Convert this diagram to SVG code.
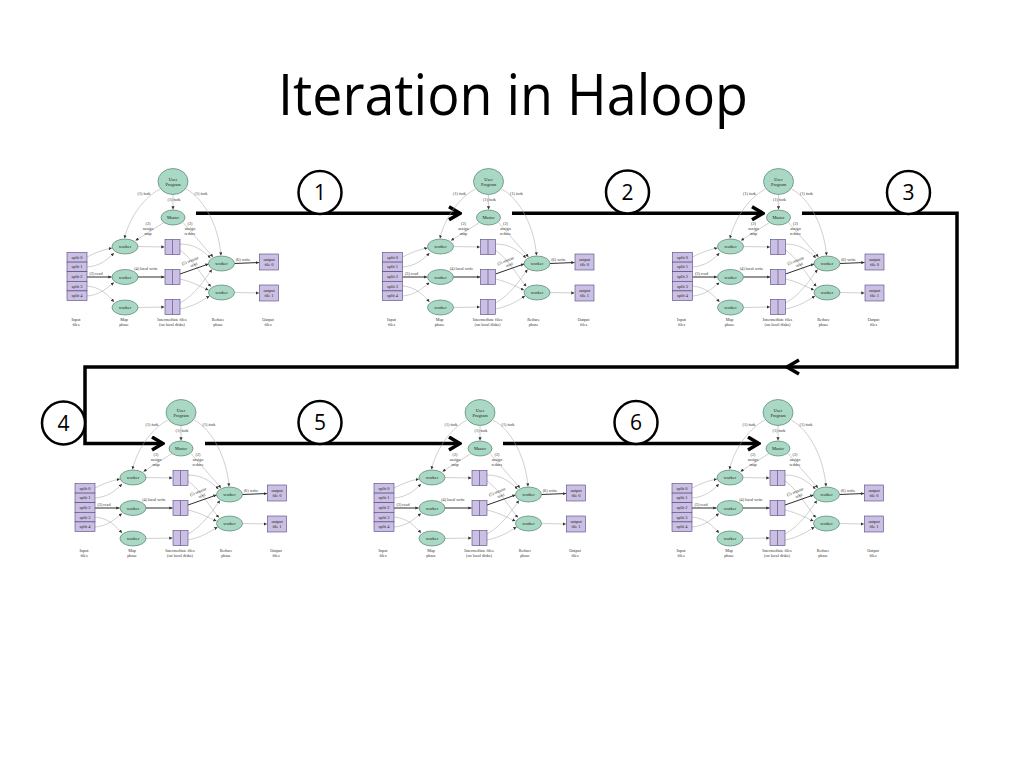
<svg xmlns="http://www.w3.org/2000/svg" width="1024" height="768" viewBox="0 0 1024 768">
<defs>
<style>
.up,.wk{fill:#a9d8c4;stroke:#3f6e5e;stroke-width:0.6}
.bx{fill:#cbc0e3;stroke:#4e4380;stroke-width:0.6}
.dv{stroke:#4e4380;stroke-width:0.6}
.t{font-family:"Liberation Serif",serif;font-size:4.2px;fill:#333;text-anchor:middle}
.n{font-family:"Liberation Serif",serif;font-size:4.4px;fill:#222;text-anchor:middle}
.c{fill:none;stroke:#a8a8a8;stroke-width:0.55;marker-end:url(#ah)}
.b{fill:none;stroke:#222;stroke-width:0.95;marker-end:url(#ah)}
.big{fill:none;stroke:#000;stroke-width:3.5}
.bigA{fill:none;stroke:#000;stroke-width:3.5;marker-end:url(#chev)}
.step{fill:#fff;stroke:#000;stroke-width:2.5}
.num{font-family:"Open Sans","Liberation Sans",sans-serif;font-size:21px;fill:#000;text-anchor:middle}
</style>
<marker id="ah" viewBox="0 0 4 4" refX="4" refY="2" markerWidth="3.2" markerHeight="3.2" markerUnits="userSpaceOnUse" orient="auto"><path d="M0,0 L4,2 L0,4 z" fill="#333"/></marker>
<marker id="chev" viewBox="0 0 14 16" refX="12.5" refY="8" markerWidth="14" markerHeight="16" markerUnits="userSpaceOnUse" orient="auto"><path d="M1.5,1.5 L12.5,8 L1.5,14.5" fill="none" stroke="#000" stroke-width="3.5"/></marker>
</defs>
<rect width="1024" height="768" fill="#fff"/>
<text x="278" y="115" font-family="'Open Sans','Liberation Sans',sans-serif" font-size="56" textLength="470" lengthAdjust="spacingAndGlyphs" fill="#000">Iteration in Haloop</text>

<g id="flow">
<path class="bigA" d="M196,213.3 H460"/>
<path class="bigA" d="M512,213.3 H763"/>
<path class="bigA" d="M802,213.3 H957 V367 H85 V443.5 H163"/>
<polyline class="big" points="799,360 787,367 799,374"/>
<path class="bigA" d="M205,443.5 H460"/>
<path class="bigA" d="M503,443.5 H759"/>
</g>
<g id="step1"><circle class="step" cx="320" cy="192.5" r="21.5"/><text class="num" x="320" y="200">1</text></g>
<g id="step2"><circle class="step" cx="627.5" cy="192" r="21.5"/><text class="num" x="627.5" y="199.5">2</text></g>
<g id="step3"><circle class="step" cx="908.5" cy="192.5" r="21.5"/><text class="num" x="908.5" y="200">3</text></g>
<g id="step4"><circle class="step" cx="63.5" cy="423" r="21.5"/><text class="num" x="63.5" y="430.5">4</text></g>
<g id="step5"><circle class="step" cx="320" cy="422.5" r="21.5"/><text class="num" x="320" y="430">5</text></g>
<g id="step6"><circle class="step" cx="636" cy="422.5" r="21.5"/><text class="num" x="636" y="430">6</text></g>

<g id="d1" transform="translate(0,0)">
<g id="d1-edges">
<path class="c" d="M160,189 C141,199 128,222 124.5,238.5"/>
<path class="c" d="M173,194.5 L173,209.5"/>
<path class="c" d="M186,189 C205,199 219,228 221,255.5"/>
<path class="c" d="M164,222.5 L135.5,240.5"/>
<path class="c" d="M183,222.5 L213,257"/>
<path class="c" d="M87,257 C97,252 104,249.5 112,248"/>
<path class="c" d="M87,267 C100,266 107,260 114,253"/>
<path class="b" d="M87,277 L111.5,277"/>
<path class="c" d="M87,286 C100,287 108,295 114,302"/>
<path class="c" d="M87,296 C100,295 107,288 114,282.5"/>
<path class="c" d="M138,246.5 L164.5,247"/>
<path class="b" d="M138,277 L164.5,277"/>
<path class="c" d="M138,307.5 L164.5,307"/>
<path class="c" d="M180,244 C195,244 203,251 210.5,258"/>
<path class="c" d="M180,250 C194,260 203,278 211,286.5"/>
<path class="b" d="M180,274 L208.5,264"/>
<path class="c" d="M180,279 C193,282 201,287 208.5,290"/>
<path class="c" d="M180,303 C195,295 205,279 212,269.5"/>
<path class="c" d="M180,309 C195,306 203,300 209.5,296"/>
<path class="b" d="M234.5,263.5 L259,262.5"/>
<path class="c" d="M234.5,292.5 L259,293"/>
<text class="t" x="144" y="194.5">(1) fork</text>
<text class="t" x="201" y="194.5">(1) fork</text>
<text class="t" x="174" y="201">(1) fork</text>
<text class="t"><tspan x="148" y="225">(2)</tspan><tspan x="148" y="230">assign</tspan><tspan x="148" y="235">map</tspan></text>
<text class="t"><tspan x="190" y="225">(2)</tspan><tspan x="190" y="230">assign</tspan><tspan x="190" y="235">reduce</tspan></text>
<text class="t" x="96" y="274.5">(3) read</text>
<text class="t" x="146" y="270">(4) local write</text>
<text class="t" transform="translate(191,263) rotate(-22)"><tspan x="0" y="-1">(5) remote</tspan><tspan x="2" y="4">read</tspan></text>
<text class="t" x="243" y="261">(6) write</text>
</g>
<g id="d1-user"><ellipse class="up" cx="173" cy="181.5" rx="15" ry="13"/><text class="n" x="173" y="180.5">User</text><text class="n" x="173" y="185.5">Program</text></g>
<g id="d1-master"><ellipse class="wk" cx="173" cy="217.5" rx="12" ry="7.5"/><text class="n" x="173" y="219">Master</text></g>
<g id="d1-map1"><ellipse class="wk" cx="125" cy="246.5" rx="13" ry="7.5"/><text class="n" x="125" y="248">worker</text></g>
<g id="d1-map2"><ellipse class="wk" cx="125" cy="277" rx="13" ry="7.5"/><text class="n" x="125" y="278.5">worker</text></g>
<g id="d1-map3"><ellipse class="wk" cx="125" cy="307.5" rx="13" ry="7.5"/><text class="n" x="125" y="309">worker</text></g>
<g id="d1-red1"><ellipse class="wk" cx="221.5" cy="263.5" rx="13" ry="7.5"/><text class="n" x="221.5" y="265">worker</text></g>
<g id="d1-red2"><ellipse class="wk" cx="221.5" cy="292.5" rx="13" ry="7.5"/><text class="n" x="221.5" y="294">worker</text></g>
<g id="d1-splits"><rect class="bx" x="67" y="252.5" width="20" height="9.6"/><rect class="bx" x="67" y="262.1" width="20" height="9.6"/><rect class="bx" x="67" y="271.7" width="20" height="9.6"/><rect class="bx" x="67" y="281.3" width="20" height="9.6"/><rect class="bx" x="67" y="290.9" width="20" height="9.6"/><text class="n" x="77" y="258.8">split 0</text><text class="n" x="77" y="268.4">split 1</text><text class="n" x="77" y="278">split 2</text><text class="n" x="77" y="287.6">split 3</text><text class="n" x="77" y="297.2">split 4</text></g>
<g id="d1-file1"><rect class="bx" x="165" y="239.5" width="15" height="15"/><line class="dv" x1="172.5" y1="239.5" x2="172.5" y2="254.5"/></g>
<g id="d1-file2"><rect class="bx" x="165" y="269.5" width="15" height="15"/><line class="dv" x1="172.5" y1="269.5" x2="172.5" y2="284.5"/></g>
<g id="d1-file3"><rect class="bx" x="165" y="299.5" width="15" height="15"/><line class="dv" x1="172.5" y1="299.5" x2="172.5" y2="314.5"/></g>
<g id="d1-out0"><rect class="bx" x="259.5" y="254" width="19" height="16"/><text class="n" x="269" y="261">output</text><text class="n" x="269" y="266">file 0</text></g>
<g id="d1-out1"><rect class="bx" x="259.5" y="285" width="19" height="16"/><text class="n" x="269" y="292">output</text><text class="n" x="269" y="297">file 1</text></g>
<g id="d1-labels"><text class="t"><tspan x="76" y="320.5">Input</tspan><tspan x="76" y="326">files</tspan></text><text class="t"><tspan x="124" y="320.5">Map</tspan><tspan x="124" y="326">phase</tspan></text><text class="t"><tspan x="172" y="320.5">Intermediate files</tspan><tspan x="172" y="326">(on local disks)</tspan></text><text class="t"><tspan x="218" y="320.5">Reduce</tspan><tspan x="218" y="326">phase</tspan></text><text class="t"><tspan x="268" y="320.5">Output</tspan><tspan x="268" y="326">files</tspan></text></g>
</g>

<g id="d2" transform="translate(315.5,0)">
<g id="d2-edges">
<path class="c" d="M160,189 C141,199 128,222 124.5,238.5"/>
<path class="c" d="M173,194.5 L173,209.5"/>
<path class="c" d="M186,189 C205,199 219,228 221,255.5"/>
<path class="c" d="M164,222.5 L135.5,240.5"/>
<path class="c" d="M183,222.5 L213,257"/>
<path class="c" d="M87,257 C97,252 104,249.5 112,248"/>
<path class="c" d="M87,267 C100,266 107,260 114,253"/>
<path class="b" d="M87,277 L111.5,277"/>
<path class="c" d="M87,286 C100,287 108,295 114,302"/>
<path class="c" d="M87,296 C100,295 107,288 114,282.5"/>
<path class="c" d="M138,246.5 L164.5,247"/>
<path class="b" d="M138,277 L164.5,277"/>
<path class="c" d="M138,307.5 L164.5,307"/>
<path class="c" d="M180,244 C195,244 203,251 210.5,258"/>
<path class="c" d="M180,250 C194,260 203,278 211,286.5"/>
<path class="b" d="M180,274 L208.5,264"/>
<path class="c" d="M180,279 C193,282 201,287 208.5,290"/>
<path class="c" d="M180,303 C195,295 205,279 212,269.5"/>
<path class="c" d="M180,309 C195,306 203,300 209.5,296"/>
<path class="b" d="M234.5,263.5 L259,262.5"/>
<path class="c" d="M234.5,292.5 L259,293"/>
<text class="t" x="144" y="194.5">(1) fork</text>
<text class="t" x="201" y="194.5">(1) fork</text>
<text class="t" x="174" y="201">(1) fork</text>
<text class="t"><tspan x="148" y="225">(2)</tspan><tspan x="148" y="230">assign</tspan><tspan x="148" y="235">map</tspan></text>
<text class="t"><tspan x="190" y="225">(2)</tspan><tspan x="190" y="230">assign</tspan><tspan x="190" y="235">reduce</tspan></text>
<text class="t" x="96" y="274.5">(3) read</text>
<text class="t" x="146" y="270">(4) local write</text>
<text class="t" transform="translate(191,263) rotate(-22)"><tspan x="0" y="-1">(5) remote</tspan><tspan x="2" y="4">read</tspan></text>
<text class="t" x="243" y="261">(6) write</text>
</g>
<g id="d2-user"><ellipse class="up" cx="173" cy="181.5" rx="15" ry="13"/><text class="n" x="173" y="180.5">User</text><text class="n" x="173" y="185.5">Program</text></g>
<g id="d2-master"><ellipse class="wk" cx="173" cy="217.5" rx="12" ry="7.5"/><text class="n" x="173" y="219">Master</text></g>
<g id="d2-map1"><ellipse class="wk" cx="125" cy="246.5" rx="13" ry="7.5"/><text class="n" x="125" y="248">worker</text></g>
<g id="d2-map2"><ellipse class="wk" cx="125" cy="277" rx="13" ry="7.5"/><text class="n" x="125" y="278.5">worker</text></g>
<g id="d2-map3"><ellipse class="wk" cx="125" cy="307.5" rx="13" ry="7.5"/><text class="n" x="125" y="309">worker</text></g>
<g id="d2-red1"><ellipse class="wk" cx="221.5" cy="263.5" rx="13" ry="7.5"/><text class="n" x="221.5" y="265">worker</text></g>
<g id="d2-red2"><ellipse class="wk" cx="221.5" cy="292.5" rx="13" ry="7.5"/><text class="n" x="221.5" y="294">worker</text></g>
<g id="d2-splits"><rect class="bx" x="67" y="252.5" width="20" height="9.6"/><rect class="bx" x="67" y="262.1" width="20" height="9.6"/><rect class="bx" x="67" y="271.7" width="20" height="9.6"/><rect class="bx" x="67" y="281.3" width="20" height="9.6"/><rect class="bx" x="67" y="290.9" width="20" height="9.6"/><text class="n" x="77" y="258.8">split 0</text><text class="n" x="77" y="268.4">split 1</text><text class="n" x="77" y="278">split 2</text><text class="n" x="77" y="287.6">split 3</text><text class="n" x="77" y="297.2">split 4</text></g>
<g id="d2-file1"><rect class="bx" x="165" y="239.5" width="15" height="15"/><line class="dv" x1="172.5" y1="239.5" x2="172.5" y2="254.5"/></g>
<g id="d2-file2"><rect class="bx" x="165" y="269.5" width="15" height="15"/><line class="dv" x1="172.5" y1="269.5" x2="172.5" y2="284.5"/></g>
<g id="d2-file3"><rect class="bx" x="165" y="299.5" width="15" height="15"/><line class="dv" x1="172.5" y1="299.5" x2="172.5" y2="314.5"/></g>
<g id="d2-out0"><rect class="bx" x="259.5" y="254" width="19" height="16"/><text class="n" x="269" y="261">output</text><text class="n" x="269" y="266">file 0</text></g>
<g id="d2-out1"><rect class="bx" x="259.5" y="285" width="19" height="16"/><text class="n" x="269" y="292">output</text><text class="n" x="269" y="297">file 1</text></g>
<g id="d2-labels"><text class="t"><tspan x="76" y="320.5">Input</tspan><tspan x="76" y="326">files</tspan></text><text class="t"><tspan x="124" y="320.5">Map</tspan><tspan x="124" y="326">phase</tspan></text><text class="t"><tspan x="172" y="320.5">Intermediate files</tspan><tspan x="172" y="326">(on local disks)</tspan></text><text class="t"><tspan x="218" y="320.5">Reduce</tspan><tspan x="218" y="326">phase</tspan></text><text class="t"><tspan x="268" y="320.5">Output</tspan><tspan x="268" y="326">files</tspan></text></g>
</g>

<g id="d3" transform="translate(605.5,0)">
<g id="d3-edges">
<path class="c" d="M160,189 C141,199 128,222 124.5,238.5"/>
<path class="c" d="M173,194.5 L173,209.5"/>
<path class="c" d="M186,189 C205,199 219,228 221,255.5"/>
<path class="c" d="M164,222.5 L135.5,240.5"/>
<path class="c" d="M183,222.5 L213,257"/>
<path class="c" d="M87,257 C97,252 104,249.5 112,248"/>
<path class="c" d="M87,267 C100,266 107,260 114,253"/>
<path class="b" d="M87,277 L111.5,277"/>
<path class="c" d="M87,286 C100,287 108,295 114,302"/>
<path class="c" d="M87,296 C100,295 107,288 114,282.5"/>
<path class="c" d="M138,246.5 L164.5,247"/>
<path class="b" d="M138,277 L164.5,277"/>
<path class="c" d="M138,307.5 L164.5,307"/>
<path class="c" d="M180,244 C195,244 203,251 210.5,258"/>
<path class="c" d="M180,250 C194,260 203,278 211,286.5"/>
<path class="b" d="M180,274 L208.5,264"/>
<path class="c" d="M180,279 C193,282 201,287 208.5,290"/>
<path class="c" d="M180,303 C195,295 205,279 212,269.5"/>
<path class="c" d="M180,309 C195,306 203,300 209.5,296"/>
<path class="b" d="M234.5,263.5 L259,262.5"/>
<path class="c" d="M234.5,292.5 L259,293"/>
<text class="t" x="144" y="194.5">(1) fork</text>
<text class="t" x="201" y="194.5">(1) fork</text>
<text class="t" x="174" y="201">(1) fork</text>
<text class="t"><tspan x="148" y="225">(2)</tspan><tspan x="148" y="230">assign</tspan><tspan x="148" y="235">map</tspan></text>
<text class="t"><tspan x="190" y="225">(2)</tspan><tspan x="190" y="230">assign</tspan><tspan x="190" y="235">reduce</tspan></text>
<text class="t" x="96" y="274.5">(3) read</text>
<text class="t" x="146" y="270">(4) local write</text>
<text class="t" transform="translate(191,263) rotate(-22)"><tspan x="0" y="-1">(5) remote</tspan><tspan x="2" y="4">read</tspan></text>
<text class="t" x="243" y="261">(6) write</text>
</g>
<g id="d3-user"><ellipse class="up" cx="173" cy="181.5" rx="15" ry="13"/><text class="n" x="173" y="180.5">User</text><text class="n" x="173" y="185.5">Program</text></g>
<g id="d3-master"><ellipse class="wk" cx="173" cy="217.5" rx="12" ry="7.5"/><text class="n" x="173" y="219">Master</text></g>
<g id="d3-map1"><ellipse class="wk" cx="125" cy="246.5" rx="13" ry="7.5"/><text class="n" x="125" y="248">worker</text></g>
<g id="d3-map2"><ellipse class="wk" cx="125" cy="277" rx="13" ry="7.5"/><text class="n" x="125" y="278.5">worker</text></g>
<g id="d3-map3"><ellipse class="wk" cx="125" cy="307.5" rx="13" ry="7.5"/><text class="n" x="125" y="309">worker</text></g>
<g id="d3-red1"><ellipse class="wk" cx="221.5" cy="263.5" rx="13" ry="7.5"/><text class="n" x="221.5" y="265">worker</text></g>
<g id="d3-red2"><ellipse class="wk" cx="221.5" cy="292.5" rx="13" ry="7.5"/><text class="n" x="221.5" y="294">worker</text></g>
<g id="d3-splits"><rect class="bx" x="67" y="252.5" width="20" height="9.6"/><rect class="bx" x="67" y="262.1" width="20" height="9.6"/><rect class="bx" x="67" y="271.7" width="20" height="9.6"/><rect class="bx" x="67" y="281.3" width="20" height="9.6"/><rect class="bx" x="67" y="290.9" width="20" height="9.6"/><text class="n" x="77" y="258.8">split 0</text><text class="n" x="77" y="268.4">split 1</text><text class="n" x="77" y="278">split 2</text><text class="n" x="77" y="287.6">split 3</text><text class="n" x="77" y="297.2">split 4</text></g>
<g id="d3-file1"><rect class="bx" x="165" y="239.5" width="15" height="15"/><line class="dv" x1="172.5" y1="239.5" x2="172.5" y2="254.5"/></g>
<g id="d3-file2"><rect class="bx" x="165" y="269.5" width="15" height="15"/><line class="dv" x1="172.5" y1="269.5" x2="172.5" y2="284.5"/></g>
<g id="d3-file3"><rect class="bx" x="165" y="299.5" width="15" height="15"/><line class="dv" x1="172.5" y1="299.5" x2="172.5" y2="314.5"/></g>
<g id="d3-out0"><rect class="bx" x="259.5" y="254" width="19" height="16"/><text class="n" x="269" y="261">output</text><text class="n" x="269" y="266">file 0</text></g>
<g id="d3-out1"><rect class="bx" x="259.5" y="285" width="19" height="16"/><text class="n" x="269" y="292">output</text><text class="n" x="269" y="297">file 1</text></g>
<g id="d3-labels"><text class="t"><tspan x="76" y="320.5">Input</tspan><tspan x="76" y="326">files</tspan></text><text class="t"><tspan x="124" y="320.5">Map</tspan><tspan x="124" y="326">phase</tspan></text><text class="t"><tspan x="172" y="320.5">Intermediate files</tspan><tspan x="172" y="326">(on local disks)</tspan></text><text class="t"><tspan x="218" y="320.5">Reduce</tspan><tspan x="218" y="326">phase</tspan></text><text class="t"><tspan x="268" y="320.5">Output</tspan><tspan x="268" y="326">files</tspan></text></g>
</g>

<g id="d4" transform="translate(8,231)">
<g id="d4-edges">
<path class="c" d="M160,189 C141,199 128,222 124.5,238.5"/>
<path class="c" d="M173,194.5 L173,209.5"/>
<path class="c" d="M186,189 C205,199 219,228 221,255.5"/>
<path class="c" d="M164,222.5 L135.5,240.5"/>
<path class="c" d="M183,222.5 L213,257"/>
<path class="c" d="M87,257 C97,252 104,249.5 112,248"/>
<path class="c" d="M87,267 C100,266 107,260 114,253"/>
<path class="b" d="M87,277 L111.5,277"/>
<path class="c" d="M87,286 C100,287 108,295 114,302"/>
<path class="c" d="M87,296 C100,295 107,288 114,282.5"/>
<path class="c" d="M138,246.5 L164.5,247"/>
<path class="b" d="M138,277 L164.5,277"/>
<path class="c" d="M138,307.5 L164.5,307"/>
<path class="c" d="M180,244 C195,244 203,251 210.5,258"/>
<path class="c" d="M180,250 C194,260 203,278 211,286.5"/>
<path class="b" d="M180,274 L208.5,264"/>
<path class="c" d="M180,279 C193,282 201,287 208.5,290"/>
<path class="c" d="M180,303 C195,295 205,279 212,269.5"/>
<path class="c" d="M180,309 C195,306 203,300 209.5,296"/>
<path class="b" d="M234.5,263.5 L259,262.5"/>
<path class="c" d="M234.5,292.5 L259,293"/>
<text class="t" x="144" y="194.5">(1) fork</text>
<text class="t" x="201" y="194.5">(1) fork</text>
<text class="t" x="174" y="201">(1) fork</text>
<text class="t"><tspan x="148" y="225">(2)</tspan><tspan x="148" y="230">assign</tspan><tspan x="148" y="235">map</tspan></text>
<text class="t"><tspan x="190" y="225">(2)</tspan><tspan x="190" y="230">assign</tspan><tspan x="190" y="235">reduce</tspan></text>
<text class="t" x="96" y="274.5">(3) read</text>
<text class="t" x="146" y="270">(4) local write</text>
<text class="t" transform="translate(191,263) rotate(-22)"><tspan x="0" y="-1">(5) remote</tspan><tspan x="2" y="4">read</tspan></text>
<text class="t" x="243" y="261">(6) write</text>
</g>
<g id="d4-user"><ellipse class="up" cx="173" cy="181.5" rx="15" ry="13"/><text class="n" x="173" y="180.5">User</text><text class="n" x="173" y="185.5">Program</text></g>
<g id="d4-master"><ellipse class="wk" cx="173" cy="217.5" rx="12" ry="7.5"/><text class="n" x="173" y="219">Master</text></g>
<g id="d4-map1"><ellipse class="wk" cx="125" cy="246.5" rx="13" ry="7.5"/><text class="n" x="125" y="248">worker</text></g>
<g id="d4-map2"><ellipse class="wk" cx="125" cy="277" rx="13" ry="7.5"/><text class="n" x="125" y="278.5">worker</text></g>
<g id="d4-map3"><ellipse class="wk" cx="125" cy="307.5" rx="13" ry="7.5"/><text class="n" x="125" y="309">worker</text></g>
<g id="d4-red1"><ellipse class="wk" cx="221.5" cy="263.5" rx="13" ry="7.5"/><text class="n" x="221.5" y="265">worker</text></g>
<g id="d4-red2"><ellipse class="wk" cx="221.5" cy="292.5" rx="13" ry="7.5"/><text class="n" x="221.5" y="294">worker</text></g>
<g id="d4-splits"><rect class="bx" x="67" y="252.5" width="20" height="9.6"/><rect class="bx" x="67" y="262.1" width="20" height="9.6"/><rect class="bx" x="67" y="271.7" width="20" height="9.6"/><rect class="bx" x="67" y="281.3" width="20" height="9.6"/><rect class="bx" x="67" y="290.9" width="20" height="9.6"/><text class="n" x="77" y="258.8">split 0</text><text class="n" x="77" y="268.4">split 1</text><text class="n" x="77" y="278">split 2</text><text class="n" x="77" y="287.6">split 3</text><text class="n" x="77" y="297.2">split 4</text></g>
<g id="d4-file1"><rect class="bx" x="165" y="239.5" width="15" height="15"/><line class="dv" x1="172.5" y1="239.5" x2="172.5" y2="254.5"/></g>
<g id="d4-file2"><rect class="bx" x="165" y="269.5" width="15" height="15"/><line class="dv" x1="172.5" y1="269.5" x2="172.5" y2="284.5"/></g>
<g id="d4-file3"><rect class="bx" x="165" y="299.5" width="15" height="15"/><line class="dv" x1="172.5" y1="299.5" x2="172.5" y2="314.5"/></g>
<g id="d4-out0"><rect class="bx" x="259.5" y="254" width="19" height="16"/><text class="n" x="269" y="261">output</text><text class="n" x="269" y="266">file 0</text></g>
<g id="d4-out1"><rect class="bx" x="259.5" y="285" width="19" height="16"/><text class="n" x="269" y="292">output</text><text class="n" x="269" y="297">file 1</text></g>
<g id="d4-labels"><text class="t"><tspan x="76" y="320.5">Input</tspan><tspan x="76" y="326">files</tspan></text><text class="t"><tspan x="124" y="320.5">Map</tspan><tspan x="124" y="326">phase</tspan></text><text class="t"><tspan x="172" y="320.5">Intermediate files</tspan><tspan x="172" y="326">(on local disks)</tspan></text><text class="t"><tspan x="218" y="320.5">Reduce</tspan><tspan x="218" y="326">phase</tspan></text><text class="t"><tspan x="268" y="320.5">Output</tspan><tspan x="268" y="326">files</tspan></text></g>
</g>

<g id="d5" transform="translate(307,231)">
<g id="d5-edges">
<path class="c" d="M160,189 C141,199 128,222 124.5,238.5"/>
<path class="c" d="M173,194.5 L173,209.5"/>
<path class="c" d="M186,189 C205,199 219,228 221,255.5"/>
<path class="c" d="M164,222.5 L135.5,240.5"/>
<path class="c" d="M183,222.5 L213,257"/>
<path class="c" d="M87,257 C97,252 104,249.5 112,248"/>
<path class="c" d="M87,267 C100,266 107,260 114,253"/>
<path class="b" d="M87,277 L111.5,277"/>
<path class="c" d="M87,286 C100,287 108,295 114,302"/>
<path class="c" d="M87,296 C100,295 107,288 114,282.5"/>
<path class="c" d="M138,246.5 L164.5,247"/>
<path class="b" d="M138,277 L164.5,277"/>
<path class="c" d="M138,307.5 L164.5,307"/>
<path class="c" d="M180,244 C195,244 203,251 210.5,258"/>
<path class="c" d="M180,250 C194,260 203,278 211,286.5"/>
<path class="b" d="M180,274 L208.5,264"/>
<path class="c" d="M180,279 C193,282 201,287 208.5,290"/>
<path class="c" d="M180,303 C195,295 205,279 212,269.5"/>
<path class="c" d="M180,309 C195,306 203,300 209.5,296"/>
<path class="b" d="M234.5,263.5 L259,262.5"/>
<path class="c" d="M234.5,292.5 L259,293"/>
<text class="t" x="144" y="194.5">(1) fork</text>
<text class="t" x="201" y="194.5">(1) fork</text>
<text class="t" x="174" y="201">(1) fork</text>
<text class="t"><tspan x="148" y="225">(2)</tspan><tspan x="148" y="230">assign</tspan><tspan x="148" y="235">map</tspan></text>
<text class="t"><tspan x="190" y="225">(2)</tspan><tspan x="190" y="230">assign</tspan><tspan x="190" y="235">reduce</tspan></text>
<text class="t" x="96" y="274.5">(3) read</text>
<text class="t" x="146" y="270">(4) local write</text>
<text class="t" transform="translate(191,263) rotate(-22)"><tspan x="0" y="-1">(5) remote</tspan><tspan x="2" y="4">read</tspan></text>
<text class="t" x="243" y="261">(6) write</text>
</g>
<g id="d5-user"><ellipse class="up" cx="173" cy="181.5" rx="15" ry="13"/><text class="n" x="173" y="180.5">User</text><text class="n" x="173" y="185.5">Program</text></g>
<g id="d5-master"><ellipse class="wk" cx="173" cy="217.5" rx="12" ry="7.5"/><text class="n" x="173" y="219">Master</text></g>
<g id="d5-map1"><ellipse class="wk" cx="125" cy="246.5" rx="13" ry="7.5"/><text class="n" x="125" y="248">worker</text></g>
<g id="d5-map2"><ellipse class="wk" cx="125" cy="277" rx="13" ry="7.5"/><text class="n" x="125" y="278.5">worker</text></g>
<g id="d5-map3"><ellipse class="wk" cx="125" cy="307.5" rx="13" ry="7.5"/><text class="n" x="125" y="309">worker</text></g>
<g id="d5-red1"><ellipse class="wk" cx="221.5" cy="263.5" rx="13" ry="7.5"/><text class="n" x="221.5" y="265">worker</text></g>
<g id="d5-red2"><ellipse class="wk" cx="221.5" cy="292.5" rx="13" ry="7.5"/><text class="n" x="221.5" y="294">worker</text></g>
<g id="d5-splits"><rect class="bx" x="67" y="252.5" width="20" height="9.6"/><rect class="bx" x="67" y="262.1" width="20" height="9.6"/><rect class="bx" x="67" y="271.7" width="20" height="9.6"/><rect class="bx" x="67" y="281.3" width="20" height="9.6"/><rect class="bx" x="67" y="290.9" width="20" height="9.6"/><text class="n" x="77" y="258.8">split 0</text><text class="n" x="77" y="268.4">split 1</text><text class="n" x="77" y="278">split 2</text><text class="n" x="77" y="287.6">split 3</text><text class="n" x="77" y="297.2">split 4</text></g>
<g id="d5-file1"><rect class="bx" x="165" y="239.5" width="15" height="15"/><line class="dv" x1="172.5" y1="239.5" x2="172.5" y2="254.5"/></g>
<g id="d5-file2"><rect class="bx" x="165" y="269.5" width="15" height="15"/><line class="dv" x1="172.5" y1="269.5" x2="172.5" y2="284.5"/></g>
<g id="d5-file3"><rect class="bx" x="165" y="299.5" width="15" height="15"/><line class="dv" x1="172.5" y1="299.5" x2="172.5" y2="314.5"/></g>
<g id="d5-out0"><rect class="bx" x="259.5" y="254" width="19" height="16"/><text class="n" x="269" y="261">output</text><text class="n" x="269" y="266">file 0</text></g>
<g id="d5-out1"><rect class="bx" x="259.5" y="285" width="19" height="16"/><text class="n" x="269" y="292">output</text><text class="n" x="269" y="297">file 1</text></g>
<g id="d5-labels"><text class="t"><tspan x="76" y="320.5">Input</tspan><tspan x="76" y="326">files</tspan></text><text class="t"><tspan x="124" y="320.5">Map</tspan><tspan x="124" y="326">phase</tspan></text><text class="t"><tspan x="172" y="320.5">Intermediate files</tspan><tspan x="172" y="326">(on local disks)</tspan></text><text class="t"><tspan x="218" y="320.5">Reduce</tspan><tspan x="218" y="326">phase</tspan></text><text class="t"><tspan x="268" y="320.5">Output</tspan><tspan x="268" y="326">files</tspan></text></g>
</g>

<g id="d6" transform="translate(605,231)">
<g id="d6-edges">
<path class="c" d="M160,189 C141,199 128,222 124.5,238.5"/>
<path class="c" d="M173,194.5 L173,209.5"/>
<path class="c" d="M186,189 C205,199 219,228 221,255.5"/>
<path class="c" d="M164,222.5 L135.5,240.5"/>
<path class="c" d="M183,222.5 L213,257"/>
<path class="c" d="M87,257 C97,252 104,249.5 112,248"/>
<path class="c" d="M87,267 C100,266 107,260 114,253"/>
<path class="b" d="M87,277 L111.5,277"/>
<path class="c" d="M87,286 C100,287 108,295 114,302"/>
<path class="c" d="M87,296 C100,295 107,288 114,282.5"/>
<path class="c" d="M138,246.5 L164.5,247"/>
<path class="b" d="M138,277 L164.5,277"/>
<path class="c" d="M138,307.5 L164.5,307"/>
<path class="c" d="M180,244 C195,244 203,251 210.5,258"/>
<path class="c" d="M180,250 C194,260 203,278 211,286.5"/>
<path class="b" d="M180,274 L208.5,264"/>
<path class="c" d="M180,279 C193,282 201,287 208.5,290"/>
<path class="c" d="M180,303 C195,295 205,279 212,269.5"/>
<path class="c" d="M180,309 C195,306 203,300 209.5,296"/>
<path class="b" d="M234.5,263.5 L259,262.5"/>
<path class="c" d="M234.5,292.5 L259,293"/>
<text class="t" x="144" y="194.5">(1) fork</text>
<text class="t" x="201" y="194.5">(1) fork</text>
<text class="t" x="174" y="201">(1) fork</text>
<text class="t"><tspan x="148" y="225">(2)</tspan><tspan x="148" y="230">assign</tspan><tspan x="148" y="235">map</tspan></text>
<text class="t"><tspan x="190" y="225">(2)</tspan><tspan x="190" y="230">assign</tspan><tspan x="190" y="235">reduce</tspan></text>
<text class="t" x="96" y="274.5">(3) read</text>
<text class="t" x="146" y="270">(4) local write</text>
<text class="t" transform="translate(191,263) rotate(-22)"><tspan x="0" y="-1">(5) remote</tspan><tspan x="2" y="4">read</tspan></text>
<text class="t" x="243" y="261">(6) write</text>
</g>
<g id="d6-user"><ellipse class="up" cx="173" cy="181.5" rx="15" ry="13"/><text class="n" x="173" y="180.5">User</text><text class="n" x="173" y="185.5">Program</text></g>
<g id="d6-master"><ellipse class="wk" cx="173" cy="217.5" rx="12" ry="7.5"/><text class="n" x="173" y="219">Master</text></g>
<g id="d6-map1"><ellipse class="wk" cx="125" cy="246.5" rx="13" ry="7.5"/><text class="n" x="125" y="248">worker</text></g>
<g id="d6-map2"><ellipse class="wk" cx="125" cy="277" rx="13" ry="7.5"/><text class="n" x="125" y="278.5">worker</text></g>
<g id="d6-map3"><ellipse class="wk" cx="125" cy="307.5" rx="13" ry="7.5"/><text class="n" x="125" y="309">worker</text></g>
<g id="d6-red1"><ellipse class="wk" cx="221.5" cy="263.5" rx="13" ry="7.5"/><text class="n" x="221.5" y="265">worker</text></g>
<g id="d6-red2"><ellipse class="wk" cx="221.5" cy="292.5" rx="13" ry="7.5"/><text class="n" x="221.5" y="294">worker</text></g>
<g id="d6-splits"><rect class="bx" x="67" y="252.5" width="20" height="9.6"/><rect class="bx" x="67" y="262.1" width="20" height="9.6"/><rect class="bx" x="67" y="271.7" width="20" height="9.6"/><rect class="bx" x="67" y="281.3" width="20" height="9.6"/><rect class="bx" x="67" y="290.9" width="20" height="9.6"/><text class="n" x="77" y="258.8">split 0</text><text class="n" x="77" y="268.4">split 1</text><text class="n" x="77" y="278">split 2</text><text class="n" x="77" y="287.6">split 3</text><text class="n" x="77" y="297.2">split 4</text></g>
<g id="d6-file1"><rect class="bx" x="165" y="239.5" width="15" height="15"/><line class="dv" x1="172.5" y1="239.5" x2="172.5" y2="254.5"/></g>
<g id="d6-file2"><rect class="bx" x="165" y="269.5" width="15" height="15"/><line class="dv" x1="172.5" y1="269.5" x2="172.5" y2="284.5"/></g>
<g id="d6-file3"><rect class="bx" x="165" y="299.5" width="15" height="15"/><line class="dv" x1="172.5" y1="299.5" x2="172.5" y2="314.5"/></g>
<g id="d6-out0"><rect class="bx" x="259.5" y="254" width="19" height="16"/><text class="n" x="269" y="261">output</text><text class="n" x="269" y="266">file 0</text></g>
<g id="d6-out1"><rect class="bx" x="259.5" y="285" width="19" height="16"/><text class="n" x="269" y="292">output</text><text class="n" x="269" y="297">file 1</text></g>
<g id="d6-labels"><text class="t"><tspan x="76" y="320.5">Input</tspan><tspan x="76" y="326">files</tspan></text><text class="t"><tspan x="124" y="320.5">Map</tspan><tspan x="124" y="326">phase</tspan></text><text class="t"><tspan x="172" y="320.5">Intermediate files</tspan><tspan x="172" y="326">(on local disks)</tspan></text><text class="t"><tspan x="218" y="320.5">Reduce</tspan><tspan x="218" y="326">phase</tspan></text><text class="t"><tspan x="268" y="320.5">Output</tspan><tspan x="268" y="326">files</tspan></text></g>
</g>
</svg>
